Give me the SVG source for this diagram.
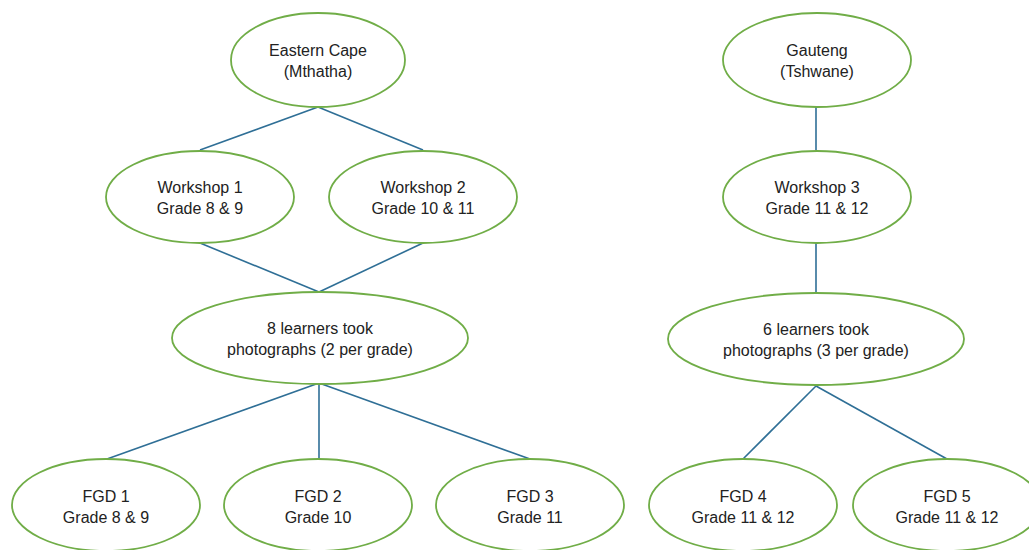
<svg xmlns="http://www.w3.org/2000/svg" width="1029" height="550" viewBox="0 0 1029 550">
<style>
.n{fill:#ffffff;stroke:#70ad47;stroke-width:1.8}
.t{font-family:"Liberation Sans",Arial,sans-serif;font-size:16px;fill:#222222;text-anchor:middle}
.c{stroke:#2f6f96;stroke-width:1.6;fill:none}
</style>
<rect width="1029" height="550" fill="#ffffff"/>
<g id="connectors">
<line class="c" x1="318" y1="107" x2="200" y2="150"/>
<line class="c" x1="318" y1="107" x2="423" y2="150"/>
<line class="c" x1="200" y1="243" x2="319" y2="292"/>
<line class="c" x1="423" y1="243" x2="319" y2="292"/>
<line class="c" x1="319" y1="383" x2="107" y2="459"/>
<line class="c" x1="319" y1="383" x2="319" y2="459"/>
<line class="c" x1="319" y1="383" x2="530" y2="459"/>
<line class="c" x1="816" y1="107" x2="816" y2="150"/>
<line class="c" x1="816" y1="243" x2="816" y2="292"/>
<line class="c" x1="816" y1="386" x2="743" y2="459"/>
<line class="c" x1="816" y1="386" x2="947" y2="459"/>
</g>
<g id="eastern-cape">
<ellipse class="n" cx="318" cy="60" rx="87" ry="47"/>
<text class="t" x="318" y="56">Eastern Cape</text>
<text class="t" x="318" y="77">(Mthatha)</text>
</g>
<g id="workshop1">
<ellipse class="n" cx="200" cy="197" rx="94" ry="46"/>
<text class="t" x="200" y="193">Workshop 1</text>
<text class="t" x="200" y="214">Grade 8 &amp; 9</text>
</g>
<g id="workshop2">
<ellipse class="n" cx="423" cy="197" rx="94" ry="46"/>
<text class="t" x="423" y="193">Workshop 2</text>
<text class="t" x="423" y="214">Grade 10 &amp; 11</text>
</g>
<g id="learners8">
<ellipse class="n" cx="320" cy="338" rx="148" ry="46"/>
<text class="t" x="320" y="334">8 learners took</text>
<text class="t" x="320" y="355">photographs (2 per grade)</text>
</g>
<g id="fgd1">
<ellipse class="n" cx="106" cy="505" rx="94" ry="46"/>
<text class="t" x="106" y="502">FGD 1</text>
<text class="t" x="106" y="523">Grade 8 &amp; 9</text>
</g>
<g id="fgd2">
<ellipse class="n" cx="318" cy="505" rx="94" ry="46"/>
<text class="t" x="318" y="502">FGD 2</text>
<text class="t" x="318" y="523">Grade 10</text>
</g>
<g id="fgd3">
<ellipse class="n" cx="530" cy="505" rx="94" ry="46"/>
<text class="t" x="530" y="502">FGD 3</text>
<text class="t" x="530" y="523">Grade 11</text>
</g>
<g id="gauteng">
<ellipse class="n" cx="817" cy="60" rx="94" ry="47"/>
<text class="t" x="817" y="56">Gauteng</text>
<text class="t" x="817" y="77">(Tshwane)</text>
</g>
<g id="workshop3">
<ellipse class="n" cx="817" cy="197" rx="94" ry="46"/>
<text class="t" x="817" y="193">Workshop 3</text>
<text class="t" x="817" y="214">Grade 11 &amp; 12</text>
</g>
<g id="learners6">
<ellipse class="n" cx="816" cy="339" rx="148" ry="46"/>
<text class="t" x="816" y="335">6 learners took</text>
<text class="t" x="816" y="356">photographs (3 per grade)</text>
</g>
<g id="fgd4">
<ellipse class="n" cx="743" cy="505" rx="94" ry="46"/>
<text class="t" x="743" y="502">FGD 4</text>
<text class="t" x="743" y="523">Grade 11 &amp; 12</text>
</g>
<g id="fgd5">
<ellipse class="n" cx="947" cy="505" rx="94" ry="46"/>
<text class="t" x="947" y="502">FGD 5</text>
<text class="t" x="947" y="523">Grade 11 &amp; 12</text>
</g>
</svg>
